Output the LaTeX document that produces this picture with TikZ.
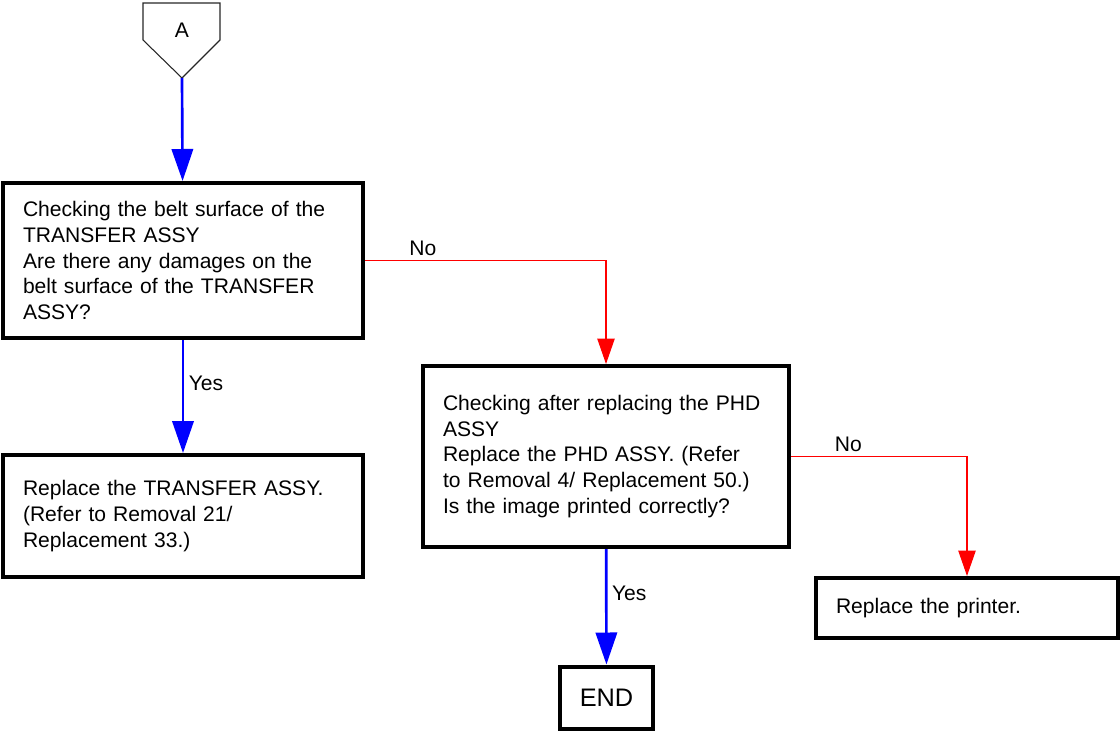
\documentclass[tikz,border=0pt]{standalone}
\usepackage{fontspec}
\setmainfont{Liberation Sans}
\usetikzlibrary{positioning, calc, arrows.meta}
\tikzset{block/.style={draw, line width=3pt, align=left, inner xsep=15pt, inner ysep=0pt,
    font=\fontsize{15.8}{19.2}\selectfont},
yesline/.style={blue, line width=2pt, -{Triangle[length=24pt, width=16pt]}},
noline/.style={red, line width=0.8pt, -{Triangle[length=19pt, width=13pt]}},
lbl/.style={text=black, font=\fontsize{15.8}{19.2}\selectfont}
}
\begin{document}
\begin{tikzpicture}[x=0.75pt, y=-0.75pt]
\useasboundingbox (0,0) rectangle (1120,731);
 % off-page connector
 \draw[line width=0.8pt, black!85] (143,3) -- (220,3) -- (220,40) -- (182,78) -- (143,40) -- cycle;
 \node[lbl] (A) at (182,30) {A};
 \coordinate (tipA) at (182,78);
 % the blocks
 \node[block, text width=240pt, minimum height=116.25pt] (belt) at (183,260.5)
   {Checking the belt surface of the\\TRANSFER ASSY\\Are there any damages on the\\belt surface of the TRANSFER\\ASSY?};
 \node[block, text width=240pt, minimum height=91.5pt] (transfer) at (183,516)
   {Replace the TRANSFER ASSY.\\(Refer to Removal 21/\\Replacement 33.)};
 \node[block, text width=244.5pt, minimum height=135.75pt] (phd) at (606,456.5)
   {Checking after replacing the PHD\\ASSY\\Replace the PHD ASSY. (Refer\\to Removal 4/ Replacement 50.)\\Is the image printed correctly?};
 \node[block, text width=196.5pt, minimum height=45pt] (printer) at (967,608)
   {Replace the printer.};
 \node[draw, line width=3pt, minimum width=69.75pt, minimum height=46.5pt,
   font=\fontsize{19}{22}\selectfont] (end) at (606.5,697.5) {END};
 % connectors
 \draw[yesline] (tipA) -- (belt);
 \draw[yesline] (belt) -- node[lbl, right, pos=0.38]{Yes} (transfer);
 \draw[noline] (belt.east) -| node[lbl, above, pos=0.12]{No} (phd.north);
 \draw[noline] (phd.east) -| node[lbl, above, pos=0.163]{No} (printer.north);
 \draw[yesline] (phd) -- node[lbl, right, pos=0.38]{Yes} (end);
\end{tikzpicture}
\end{document}
